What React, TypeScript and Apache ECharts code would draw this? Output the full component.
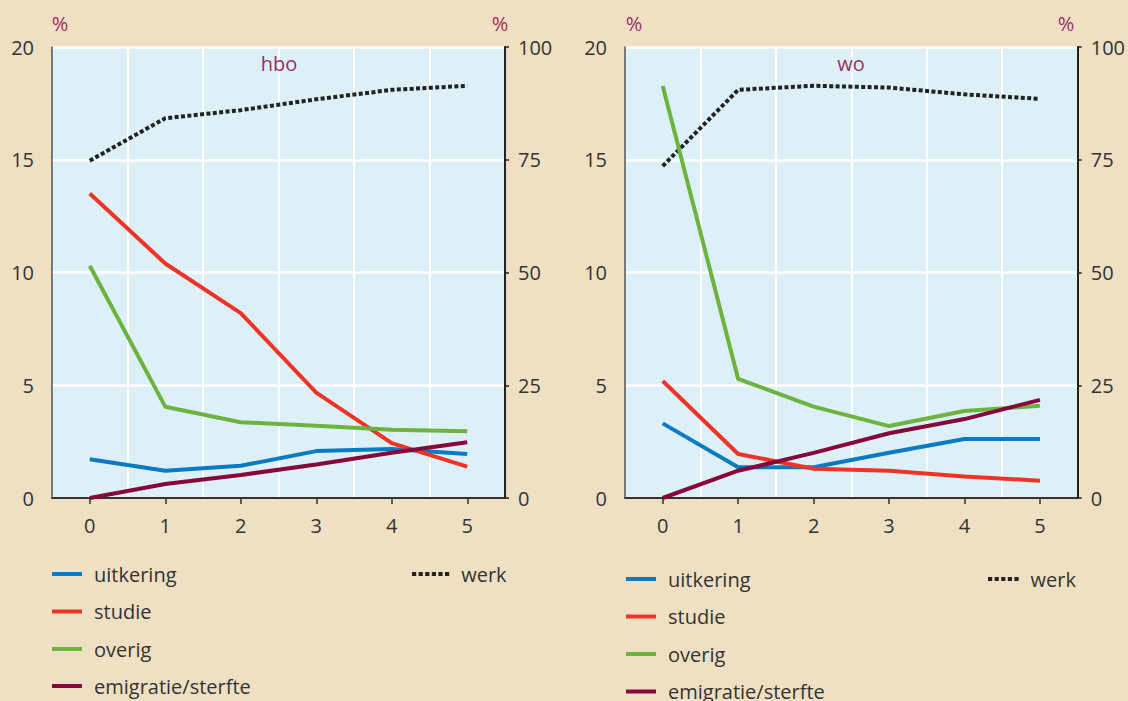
import React, { useEffect, useRef } from "react";
import * as echarts from "echarts";

const years = ["0", "1", "2", "3", "4", "5"];

const hboUitkering = [1.72, 1.21, 1.43, 2.08, 2.17, 1.95];
const hboStudie = [13.5, 10.4, 8.2, 4.67, 2.43, 1.39];
const hboOverig = [10.3, 4.05, 3.36, 3.2, 3.03, 2.96];
const hboEmigratie = [0, 0.62, 1.02, 1.49, 2.01, 2.47];
const hboWerk = [74.8, 84.2, 86.0, 88.4, 90.5, 91.4];

const woUitkering = [3.31, 1.36, 1.36, 2.01, 2.62, 2.62];
const woStudie = [5.19, 1.95, 1.3, 1.21, 0.95, 0.77];
const woOverig = [18.27, 5.28, 4.05, 3.19, 3.86, 4.09];
const woEmigratie = [0, 1.21, 2.0, 2.87, 3.5, 4.35];
const woWerk = [73.6, 90.5, 91.4, 91.0, 89.5, 88.5];

const leftTicks = [0, 5, 10, 15, 20];
const rightTicks = [0, 25, 50, 75, 100];

const panelTitles = ["hbo", "wo"];
const legendNames = ["uitkering", "studie", "overig", "emigratie/sterfte"];
const werkName = "werk";

const COLORS = {
  uitkering: "#0a7bc2",
  studie: "#ee3427",
  overig: "#6db33f",
  emigratie: "#88073a",
  werk: "#222222",
};

const FONT = "'Open Sans', sans-serif";
const TEXT = "#333333";
const PURPLE = "#9e2d66";

function dottedIcon(n: number) {
  let d = "path://";
  for (let i = 0; i < n; i++) {
    const x = i * 6.6;
    d += `M${x},0h4.2v4h-4.2z`;
  }
  return d;
}

export default function App() {
  const ref = useRef<HTMLDivElement>(null);

  useEffect(() => {
    if (!ref.current) return;
    const chart = echarts.init(ref.current, undefined, { renderer: "svg" });

    const grids = [
      { left: 52, right: 1128 - 505, top: 47, bottom: 701 - 498 },
      { left: 625, right: 1128 - 1078, top: 47, bottom: 701 - 498 },
    ];

    const xAxis = grids.map((_, i) => ({
      type: "category",
      gridIndex: i,
      data: years,
      boundaryGap: true,
      axisLine: { show: true, lineStyle: { color: "#333", width: 2 } },
      axisTick: { show: true, alignWithLabel: true, length: 6, lineStyle: { color: "#333", width: 1.5 } },
      axisLabel: { color: TEXT, fontSize: 20, fontFamily: FONT, margin: 17 },
      splitLine: {
        show: true,
        showMinLine: false,
        showMaxLine: false,
        lineStyle: { color: "#ffffff", width: 2 },
      },
      z: 1,
    }));

    const yAxis: any[] = [];
    grids.forEach((_, i) => {
      yAxis.push({
        type: "value",
        gridIndex: i,
        position: "left",
        min: leftTicks[0],
        max: leftTicks[leftTicks.length - 1],
        interval: 5,
        axisLine: { show: true, lineStyle: { color: "#555", width: 1.5 } },
        axisTick: { show: false },
        axisLabel: { color: TEXT, fontSize: 20, fontFamily: FONT, margin: 18 },
        splitLine: {
          show: true,
          showMinLine: false,
          lineStyle: { color: "#ffffff", width: 2.5 },
        },
        z: 2,
      });
      yAxis.push({
        type: "value",
        gridIndex: i,
        position: "right",
        min: rightTicks[0],
        max: rightTicks[rightTicks.length - 1],
        interval: 25,
        axisLine: { show: true, lineStyle: { color: "#222", width: 2 } },
        axisTick: { show: true, length: 4, lineStyle: { color: "#222", width: 1.5 } },
        axisLabel: { color: TEXT, fontSize: 20, fontFamily: FONT, margin: 13 },
        splitLine: { show: false },
        z: 2,
      });
    });

    const mk = (name: string, data: number[], color: string, xi: number, yi: number, dotted = false) => ({
      type: "line",
      name,
      data,
      xAxisIndex: xi,
      yAxisIndex: yi,
      symbol: "none",
      showSymbol: false,
      smooth: false,
      lineStyle: dotted
        ? { color, width: 4, type: [4, 2.4], cap: "butt" }
        : { color, width: 4 },
      itemStyle: { color },
      z: 3,
    });

    const series = [
      mk(werkName, hboWerk, COLORS.werk, 0, 1, true),
      mk(legendNames[0], hboUitkering, COLORS.uitkering, 0, 0),
      mk(legendNames[1], hboStudie, COLORS.studie, 0, 0),
      mk(legendNames[2], hboOverig, COLORS.overig, 0, 0),
      mk(legendNames[3], hboEmigratie, COLORS.emigratie, 0, 0),
      mk(werkName, woWerk, COLORS.werk, 1, 3, true),
      mk(legendNames[0], woUitkering, COLORS.uitkering, 1, 2),
      mk(legendNames[1], woStudie, COLORS.studie, 1, 2),
      mk(legendNames[2], woOverig, COLORS.overig, 1, 2),
      mk(legendNames[3], woEmigratie, COLORS.emigratie, 1, 2),
    ];

    const legendText = {
      color: TEXT,
      fontSize: 20,
      fontFamily: FONT,
      lineHeight: 20,
      padding: [0, 0, 0, 7],
    };

    const legItem = (name: string, left: number, centerY: number, icon: string, w: number) => ({
      data: [name],
      orient: "horizontal",
      left,
      top: centerY - 10,
      padding: 0,
      icon,
      itemWidth: w,
      itemHeight: 4,
      selectedMode: false,
      textStyle: legendText,
    });

    const leftRows = [574, 611.5, 649, 686];
    const rightRows = [579, 616.5, 654, 691.5];

    const legend = [
      ...legendNames.map((n, i) => legItem(n, 52, leftRows[i], "rect", 30)),
      legItem(werkName, 412, 574, dottedIcon(6), 37.2),
      ...legendNames.map((n, i) => legItem(n, 626, rightRows[i], "rect", 30)),
      legItem(werkName, 988, 579, dottedIcon(5), 30.6),
    ];

    const txt = (text: string, x: number, y: number) => ({
      type: "text",
      x,
      y,
      style: {
        text,
        fill: PURPLE,
        fontSize: 20,
        fontFamily: FONT,
        align: "center",
        verticalAlign: "middle",
      },
      z: 10,
    });

    chart.setOption({
      animation: false,
      backgroundColor: "#efe0c3",
      grid: grids.map((g) => ({
        ...g,
        show: true,
        backgroundColor: "#ddf0f7",
        borderWidth: 0,
      })),
      xAxis,
      yAxis,
      series,
      legend,
      graphic: [
        txt("%", 60, 23),
        txt("%", 500, 23),
        txt("%", 634, 23),
        txt("%", 1066, 23),
        txt(panelTitles[0], 279, 63),
        txt(panelTitles[1], 851, 63),
      ],
    });

    return () => chart.dispose();
  }, []);

  return (
    <div
      ref={ref}
      style={{ position: "absolute", left: 0, top: 0, width: 1128, height: 701 }}
    />
  );
}
